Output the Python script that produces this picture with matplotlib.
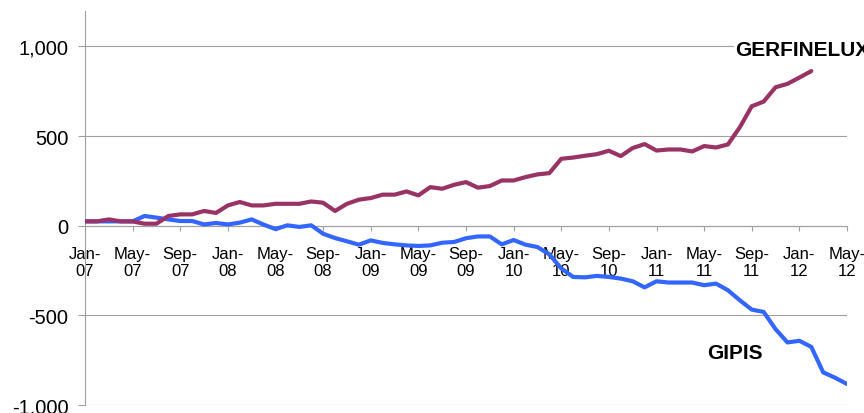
import matplotlib.pyplot as plt
import numpy as np

plt.rcParams['font.family'] = ['Liberation Sans', 'DejaVu Sans']

# monthly values, Jan-07 onwards
gipis = [24, 24, 24, 24, 24, 54, 45, 35, 26, 26, 7, 15, 7, 17, 35, 6,
         -19, 2, -7, 2, -45, -69, -87, -106, -82, -96, -104, -110, -113, -110, -95, -91,
         -70, -60, -60, -104, -80, -106, -119, -160, -238, -286, -288, -280, -286, -295, -310, -344,
         -310, -317, -317, -317, -332, -323, -360, -416, -468, -481, -577, -651, -642, -676, -818, -848,
         -883]
gerfinelux = [24, 24, 35, 24, 24, 11, 11, 54, 63, 63, 82, 71, 113, 132, 113, 113,
              122, 122, 122, 135, 128, 82, 122, 145, 154, 173, 173, 191, 169, 215, 206, 228,
              243, 212, 221, 252, 252, 271, 286, 293, 373, 380, 390, 399, 418, 388, 433, 455,
              419, 425, 425, 414, 444, 436, 453, 549, 666, 692, 772, 791, 826, 862]

tick_labels = ["Jan-\n07", "May-\n07", "Sep-\n07", "Jan-\n08", "May-\n08", "Sep-\n08",
               "Jan-\n09", "May-\n09", "Sep-\n09", "Jan-\n10", "May-\n10", "Sep-\n10",
               "Jan-\n11", "May-\n11", "Sep-\n11", "Jan-\n12", "May-\n12"]
y_ticks = [-1000, -500, 0, 500, 1000]

fig = plt.figure(figsize=(8.64, 4.14), dpi=100)
ax = fig.add_axes([85 / 864, 1 - 406 / 414, 762 / 864, 394.5 / 414])

ax.plot(np.arange(len(gipis)), gipis, color="#3366ff", lw=3, solid_capstyle="round", zorder=3)
ax.plot(np.arange(len(gerfinelux)), gerfinelux, color="#993366", lw=3, solid_capstyle="round", zorder=4)

ax.set_xlim(0, 4 * (len(tick_labels) - 1))
ax.set_ylim(-1000, 1200)

ax.set_yticks(y_ticks)
ax.set_yticklabels([f"{v:,}" for v in y_ticks])
ax.set_xticks(np.arange(len(tick_labels)) * 4)
ax.set_xticklabels(tick_labels, linespacing=1.75)

ax.grid(axis="y", color="#a0a0a0", lw=0.8)
ax.set_axisbelow(True)

for s in ["top", "right"]:
    ax.spines[s].set_visible(False)
ax.spines["bottom"].set_position(("data", 0))
ax.spines["left"].set_color("#a0a0a0")
ax.spines["bottom"].set_color("#a0a0a0")
ax.spines["left"].set_linewidth(0.8)
ax.spines["bottom"].set_linewidth(0.8)

ax.tick_params(axis="y", length=5, color="#a0a0a0", labelsize=14.5, pad=7)
ax.tick_params(axis="x", length=3.6, color="#a0a0a0", labelsize=12, pad=11)

# series labels
ax.text(54.6, 985, "GERFINELUX", ha="left", va="center", fontsize=15, fontweight="bold",
        bbox=dict(facecolor="white", edgecolor="none", pad=1), clip_on=False, zorder=5)
ax.text(54.6, -707, "GIPIS", ha="center", va="center", fontsize=15, fontweight="bold", zorder=5)

plt.savefig("out.png", dpi=100)
